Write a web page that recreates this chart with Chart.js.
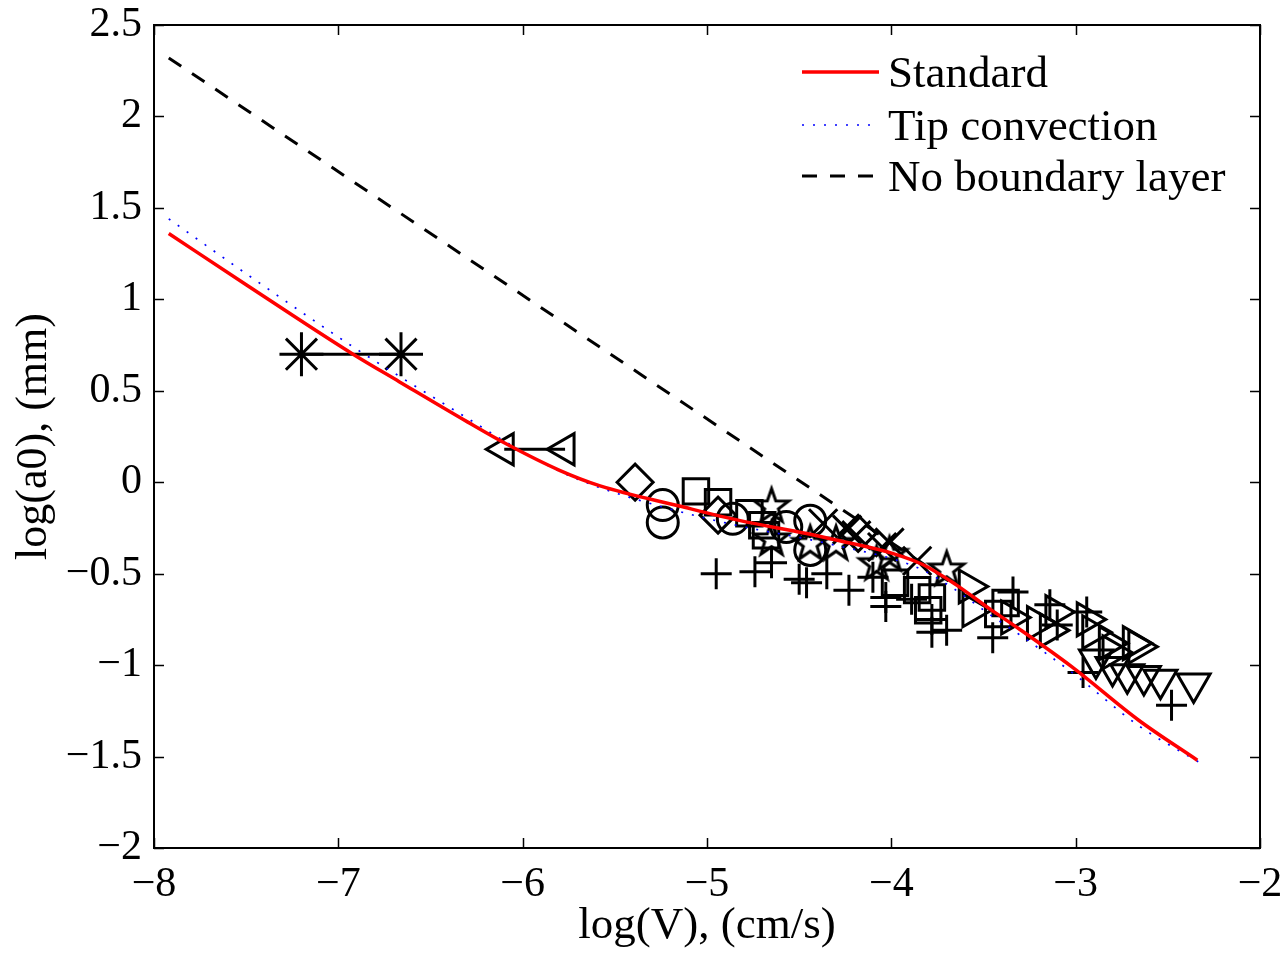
<!DOCTYPE html>
<html>
<head>
<meta charset="utf-8">
<script src="https://cdn.jsdelivr.net/npm/chart.js@4.4.1/dist/chart.umd.min.js"></script>
<style>
  html, body { margin: 0; padding: 0; background: #ffffff; }
  #wrap { width: 1286px; height: 953px; }
</style>
</head>
<body>
<div id="wrap"><canvas id="c" width="1286" height="953"></canvas></div>
<script>
// ---------- Data ----------
const xTickValues = [-8, -7, -6, -5, -4, -3, -2];
const yTickValues = [-2, -1.5, -1, -0.5, 0, 0.5, 1, 1.5, 2, 2.5];

const standardX = [-7.92, -7.50, -6.92, -6.67, -6.30, -6.09, -5.80, -5.58, -5.15, -4.82, -4.46, -4.28, -3.99, -3.83, -3.65, -3.47, -3.31, -3.02, -2.66, -2.34];
const standardY = [1.36, 1.08, 0.70, 0.55, 0.33, 0.21, 0.065, -0.02, -0.13, -0.21, -0.28, -0.32, -0.39, -0.45, -0.56, -0.69, -0.80, -1.01, -1.30, -1.52];

const tipX = [-7.92, -7.50, -6.92, -6.67, -6.30, -6.09, -5.80, -5.58, -5.15, -4.82, -4.46, -4.28, -3.99, -3.83, -3.65, -3.47, -3.31, -3.02, -2.66, -2.30];
const tipY = [1.44, 1.14, 0.74, 0.58, 0.35, 0.22, 0.06, -0.03, -0.16, -0.24, -0.31, -0.35, -0.42, -0.48, -0.59, -0.72, -0.83, -1.04, -1.33, -1.55];

const noBLX = [-7.92, -3.60];
const noBLY = [2.32, -0.60];

const asteriskX = [-7.20, -6.66];
const asteriskY = [0.70, 0.70];

const leftTriX = [-6.10, -5.77];
const leftTriY = [0.18, 0.18];

const diamondX = [-5.39, -4.94, -4.18];
const diamondY = [0.00, -0.18, -0.28];

const circleX = [-5.24, -5.24, -4.86, -4.57, -4.44, -4.44];
const circleY = [-0.125, -0.22, -0.20, -0.245, -0.21, -0.37];

const squareX = [-5.06, -4.94, -4.77, -4.70, -4.68, -3.98, -3.86, -3.78, -3.80, -3.38, -3.42];
const squareY = [-0.05, -0.11, -0.17, -0.235, -0.29, -0.55, -0.59, -0.63, -0.70, -0.66, -0.72];

const pentaX = [-4.65, -4.65, -4.44, -4.30, -4.08, -4.01, -3.70];
const pentaY = [-0.125, -0.305, -0.33, -0.33, -0.44, -0.39, -0.47];

const xMarkX = [-4.37, -4.24, -4.19, -4.05, -4.01, -3.86];
const xMarkY = [-0.225, -0.26, -0.29, -0.355, -0.33, -0.43];

const plusX = [-4.95, -4.74, -4.65, -4.50, -4.46, -4.35, -4.23, -4.10, -4.03, -4.03, -3.89, -3.78, -3.70, -3.78, -3.45, -3.34, -3.14, -2.94, -2.96, -2.48, -3.10];
const plusY = [-0.50, -0.49, -0.44, -0.53, -0.55, -0.50, -0.59, -0.52, -0.68, -0.63, -0.64, -0.75, -0.81, -0.82, -0.85, -0.60, -0.67, -0.71, -1.04, -1.22, -0.78];

const rightTriX = [-3.58, -3.56, -3.35, -3.21, -3.14, -3.11, -2.94, -2.91, -2.82, -2.80, -2.69, -2.66];
const rightTriY = [-0.57, -0.70, -0.74, -0.77, -0.81, -0.71, -0.75, -0.82, -0.88, -0.93, -0.88, -0.90];

const downTriX = [-2.89, -2.80, -2.72, -2.63, -2.54, -2.36];
const downTriY = [-0.97, -1.01, -1.05, -1.06, -1.08, -1.10];

const legendLabels = ['Standard', 'Tip convection', 'No boundary layer'];

// ---------- helpers ----------
const pts = (xs, ys) => xs.map((x, i) => ({ x: x, y: ys[i] }));
const SERIF = '"Liberation Serif", "Times New Roman", serif';
const MW = 3; // marker stroke width

function makePentagram(r, ri, lw) {
  const s = Math.ceil(2 * r + 16);
  const c = document.createElement('canvas');
  c.width = s; c.height = s;
  const g = c.getContext('2d');
  g.strokeStyle = '#000'; g.lineWidth = lw; g.lineJoin = 'miter';
  g.beginPath();
  for (let i = 0; i < 10; i++) {
    const a = -Math.PI / 2 + i * Math.PI / 5;
    const rr = (i % 2) ? ri : r;
    const px = s / 2 + rr * Math.cos(a), py = s / 2 + 1.5 + rr * Math.sin(a);
    if (i === 0) g.moveTo(px, py); else g.lineTo(px, py);
  }
  g.closePath(); g.stroke();
  return c;
}
const pentaImg = makePentagram(18, 7.2, MW);

const fmt = v => {
  const s = (Math.round(v * 10) / 10).toString();
  return s.replace('-', '\u2212');
};

function markerSet(label, xs, ys, style, radius, rotation, extra) {
  return Object.assign({
    type: 'scatter', label: label, data: pts(xs, ys),
    pointStyle: style, pointRadius: radius, pointHoverRadius: radius,
    pointRotation: rotation || 0,
    pointBorderColor: '#000', pointBackgroundColor: 'rgba(0,0,0,0)',
    pointBorderWidth: MW, showLine: false, order: 2
  }, extra || {});
}

// ---------- plugins ----------
const framePlugin = {
  id: 'frame',
  afterDatasetsDraw(chart) {
    const { ctx, chartArea: a, scales } = chart;
    ctx.save();
    ctx.strokeStyle = '#000';
    ctx.lineWidth = 1.5;
    const L = 10;
    ctx.beginPath();
    xTickValues.forEach(v => {
      const px = Math.round(scales.x.getPixelForValue(v)) + 0.5;
      ctx.moveTo(px, a.bottom); ctx.lineTo(px, a.bottom - L);
      ctx.moveTo(px, a.top); ctx.lineTo(px, a.top + L);
    });
    yTickValues.forEach(v => {
      const py = Math.round(scales.y.getPixelForValue(v)) + 0.5;
      ctx.moveTo(a.left, py); ctx.lineTo(a.left + L, py);
      ctx.moveTo(a.right, py); ctx.lineTo(a.right - L, py);
    });
    ctx.stroke();
    ctx.lineWidth = 2;
    ctx.strokeRect(a.left, a.top, a.right - a.left, a.bottom - a.top);
    ctx.restore();
  }
};

const legendPlugin = {
  id: 'innerLegend',
  afterDatasetsDraw(chart) {
    const { ctx } = chart;
    const rows = [72, 125, 176];
    const baselines = [87, 140, 191];
    ctx.save();
    for (let i = 0; i < 3; i++) {
      const ds = chart.data.datasets[i];
      ctx.beginPath();
      ctx.strokeStyle = ds.borderColor;
      ctx.lineWidth = ds.borderWidth;
      ctx.setLineDash(ds.borderDash || []);
      ctx.moveTo(802, rows[i]); ctx.lineTo(879, rows[i]);
      ctx.stroke();
      ctx.setLineDash([]);
      ctx.fillStyle = '#000';
      ctx.font = '45px ' + SERIF;
      ctx.textBaseline = 'alphabetic';
      ctx.textAlign = 'left';
      ctx.fillText(legendLabels[i], 888, baselines[i]);
    }
    ctx.restore();
  }
};

// ---------- chart ----------
const ctx = document.getElementById('c').getContext('2d');
new Chart(ctx, {
  type: 'scatter',
  data: {
    datasets: [
      { type: 'line', label: legendLabels[0], data: pts(standardX, standardY), borderColor: '#ff0000', borderWidth: 3.5, pointRadius: 0, fill: false, cubicInterpolationMode: 'monotone', order: 0 },
      { type: 'line', label: legendLabels[1], data: pts(tipX, tipY), borderColor: '#0000ff', borderWidth: 1.7, borderDash: [2, 9], pointRadius: 0, fill: false, cubicInterpolationMode: 'monotone', order: 0 },
      { type: 'line', label: legendLabels[2], data: pts(noBLX, noBLY), borderColor: '#000000', borderWidth: 3, borderDash: [15, 13], pointRadius: 0, fill: false, tension: 0, order: 0 },
      markerSet('asterisk', asteriskX, asteriskY, 'star', 22, 0, { showLine: true, borderColor: '#000', borderWidth: MW }),
      markerSet('left triangle', leftTriX, leftTriY, 'triangle', 18, 270, { showLine: true, borderColor: '#000', borderWidth: MW }),
      markerSet('diamond', diamondX, diamondY, 'rectRot', 18),
      markerSet('circle', circleX, circleY, 'circle', 15.5),
      markerSet('square', squareX, squareY, 'rect', 18),
      markerSet('pentagram', pentaX, pentaY, pentaImg, 18),
      markerSet('x', xMarkX, xMarkY, 'crossRot', 20),
      markerSet('plus', plusX, plusY, 'cross', 15.5),
      markerSet('right triangle', rightTriX, rightTriY, 'triangle', 19, 90),
      markerSet('down triangle', downTriX, downTriY, 'triangle', 19, 180)
    ]
  },
  options: {
    responsive: false,
    animation: false,
    devicePixelRatio: 1,
    layout: { padding: { left: 0, top: 24, right: 26, bottom: 0 } },
    plugins: { legend: { display: false }, tooltip: { enabled: false } },
    scales: {
      x: {
        type: 'linear', min: -8, max: -2,
        afterBuildTicks: s => { s.ticks = xTickValues.map(v => ({ value: v })); },
        afterFit: s => { s.height = 105; s.paddingLeft = 0; s.paddingRight = 0; },
        grid: { display: false, drawTicks: false },
        border: { display: false },
        ticks: { padding: 12, color: '#000', font: { family: SERIF, size: 42 }, callback: v => fmt(v), maxRotation: 0 },
        title: { display: true, text: 'log(V), (cm/s)', color: '#000', font: { family: SERIF, size: 45 }, padding: { top: 0, bottom: 0 } }
      },
      y: {
        type: 'linear', min: -2, max: 2.5,
        afterBuildTicks: s => { s.ticks = yTickValues.map(v => ({ value: v })); },
        afterFit: s => { s.width = 154; s.paddingTop = 0; s.paddingBottom = 0; },
        grid: { display: false, drawTicks: false },
        border: { display: false },
        ticks: { padding: 12, color: '#000', font: { family: SERIF, size: 42 }, callback: v => fmt(v) },
        title: { display: true, text: 'log(a0), (mm)', color: '#000', font: { family: SERIF, size: 44 }, padding: { top: 8, bottom: 0 } }
      }
    }
  },
  plugins: [framePlugin, legendPlugin]
});
</script>
</body>
</html>
